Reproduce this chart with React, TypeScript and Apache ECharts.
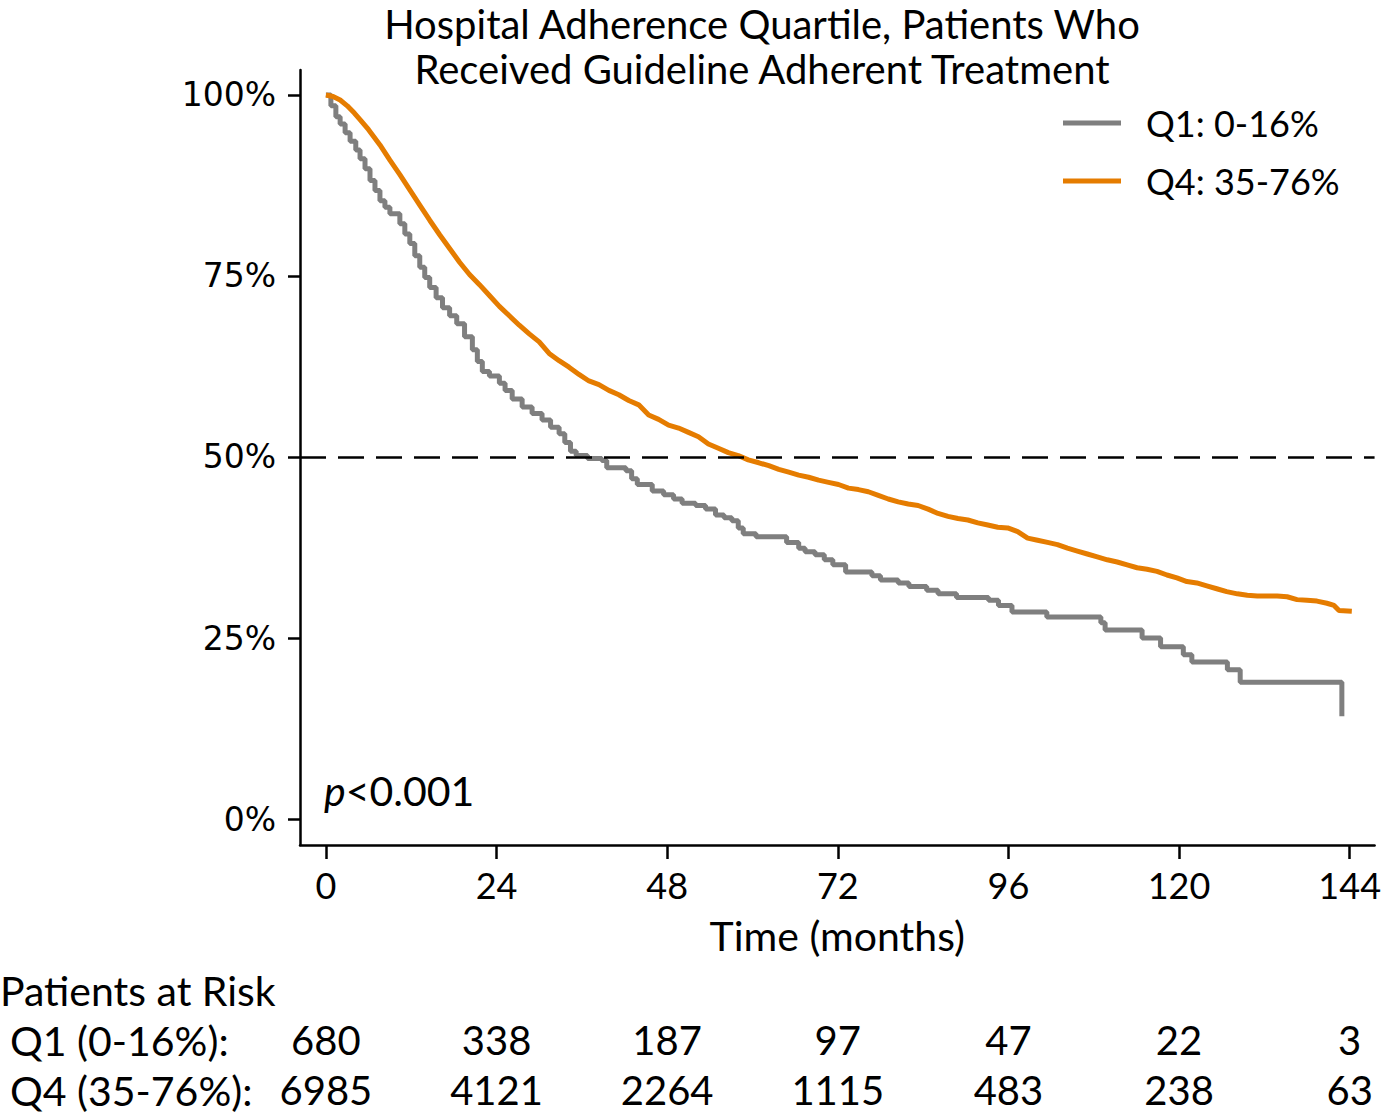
import React, { useEffect, useRef } from "react";
import * as echarts from "echarts";

const titleLines = ["Hospital Adherence Quartile, Patients Who", "Received Guideline Adherent Treatment"];
const xTicks = [0, 24, 48, 72, 96, 120, 144];
const yTicks = [0, 25, 50, 75, 100];
const seriesNames = ["Q1: 0-16%", "Q4: 35-76%"];
const riskRowLabels = ["Q1 (0-16%):", "Q4 (35-76%):"];
const riskQ1 = [680, 338, 187, 97, 47, 22, 3];
const riskQ4 = [6985, 4121, 2264, 1115, 483, 238, 63];

// Q1 (grey): [months, survival %]
const q1Curve: [number, number][] = [
  [0, 100], [0.7, 98.5], [1.4, 97], [2, 96], [2.7, 94.8], [3.4, 93.6], [4.2, 92.4], [4.8, 91.2],
  [5.5, 89.8], [6.2, 88.2], [6.9, 86.8], [7.6, 85.4], [8.3, 84.5], [9, 83.6], [10.4, 82.2],
  [11.1, 80.8], [11.8, 79.5], [12.5, 77.8], [13.2, 76.2], [13.9, 74.8], [14.6, 73.4], [15.5, 72],
  [16.4, 70.6], [17.4, 69.5], [18.4, 68.4], [19.5, 66.6], [20.6, 64.8], [21.3, 63.2], [22, 61.8],
  [23, 61.2], [24.4, 60.2], [25.2, 59.2], [26.2, 58], [27.6, 56.9], [29, 56], [30.4, 55.1],
  [31.6, 54.1], [32.8, 53.2], [33.6, 52], [34.4, 50.8], [35.2, 50.2], [36.8, 49.8], [38.8, 49.5],
  [39.5, 48.5], [42.2, 48.1], [43, 47], [43.8, 46.2], [45.9, 45.3], [47.5, 44.8], [48.9, 44.2],
  [50.1, 43.6], [52, 43.3], [53.4, 42.8], [54.8, 42], [56, 41.6], [57.1, 41.2], [58, 40.2],
  [58.7, 39.4], [60.5, 39], [64.8, 38.2], [66.5, 37.4], [67.4, 36.9], [68.8, 36.5], [70.1, 35.8],
  [71.3, 35.1], [73.1, 34.1], [76.8, 33.6], [78, 33], [80.5, 32.6], [82, 32.1], [84.5, 31.6],
  [86.1, 31.1], [88.7, 30.6], [93.2, 30.2], [94.6, 29.5], [96.5, 28.6], [101.4, 27.9],
  [109, 27.1], [109.6, 26.1], [114.8, 25], [117.4, 23.8], [120.6, 22.7], [121.8, 21.7],
  [126.8, 20.6], [128.6, 18.9], [142.9, 14.2],
];

// Q4 (orange): [months, survival %]
const q4Curve: [number, number][] = [
  [0, 100], [1, 99.8], [2, 99.3], [3, 98.5], [4, 97.5], [4.8, 96.6], [6, 95.2], [7.6, 93.1],
  [9, 91], [10.4, 89], [11.8, 86.9], [13.2, 84.8], [14.6, 82.7], [16, 80.7], [17.4, 78.8],
  [18.8, 76.9], [20.2, 75.2], [21.6, 73.8], [23, 72.3], [24.4, 70.8], [25.8, 69.5], [27.2, 68.2],
  [28.6, 67], [30, 65.9], [31.4, 64.3], [32.8, 63.3], [34.2, 62.4], [35.6, 61.4], [37, 60.5],
  [38.4, 60], [39.8, 59.2], [41.2, 58.6], [42.6, 57.8], [44, 57.2], [45.4, 55.8], [46.8, 55.2],
  [48.2, 54.4], [49.6, 54], [51, 53.4], [52.4, 52.8], [53.8, 51.8], [55.2, 51.2], [56.6, 50.6],
  [58, 50.2], [59.4, 49.6], [60.9, 49.2], [62.3, 48.8], [63.7, 48.3], [65.1, 47.9], [66.5, 47.5],
  [67.9, 47.2], [69.3, 46.8], [70.7, 46.5], [72.1, 46.2], [73.5, 45.7], [74.9, 45.5], [76.3, 45.2],
  [77.7, 44.7], [79.1, 44.2], [80.5, 43.8], [81.9, 43.5], [83.3, 43.3], [84.7, 42.8], [86.1, 42.2],
  [87.5, 41.8], [88.9, 41.5], [90.3, 41.3], [91.7, 40.9], [93.1, 40.6], [94.5, 40.3], [95.9, 40.2],
  [97.3, 39.7], [98.7, 38.8], [100.1, 38.5], [101.5, 38.2], [102.9, 37.9], [104.3, 37.4],
  [105.7, 37], [107.1, 36.6], [108.5, 36.2], [109.9, 35.8], [111.3, 35.5], [112.7, 35.1],
  [114.1, 34.7], [115.5, 34.5], [116.9, 34.2], [118.3, 33.7], [119.7, 33.3], [121.1, 32.8],
  [122.5, 32.6], [123.9, 32.2], [125.3, 31.8], [126.7, 31.4], [128.2, 31.1], [129.6, 30.9],
  [131, 30.8], [133.8, 30.8], [135.2, 30.7], [136.6, 30.3], [138, 30.2], [139.4, 30.1],
  [140.8, 29.8], [141.8, 29.5], [142.5, 28.8], [144.3, 28.7],
];

const medianLine = 50;
const pText = "<0.001";

const FONT = "Lato";
const GREY = "#7f7f7f";
const ORANGE = "#e57c00";

export default function App() {
  const ref = useRef<HTMLDivElement>(null);
  useEffect(() => {
    if (!ref.current) return;
    const chart = echarts.init(ref.current, null, { renderer: "svg" });
    const option: any = {
      animation: false,
      backgroundColor: "#ffffff",
      grid: { left: 300, right: 6, top: 70, bottom: 269, containLabel: false },
      legend: {
        orient: "vertical",
        left: 1058,
        top: 100,
        icon: "rect",
        itemWidth: 58,
        itemHeight: 5,
        itemGap: 22,
        data: seriesNames,
        textStyle: { fontFamily: FONT, fontSize: 36, color: "#000", lineHeight: 36, padding: [0, 0, 0, 20] },
      },
      xAxis: {
        type: "value",
        min: -3.645,
        max: 147.5,
        name: "Time (months)",
        nameLocation: "middle",
        nameGap: 70,
        nameTextStyle: { fontFamily: FONT, fontSize: 41, color: "#000" },
        axisLine: { show: true, onZero: false, lineStyle: { color: "#000", width: 2.5 } },
        axisTick: { show: true, length: 14, customValues: xTicks, lineStyle: { color: "#000", width: 2.5 } },
        axisLabel: { customValues: xTicks, fontFamily: FONT, fontSize: 36, color: "#000", margin: 22 },
        splitLine: { show: false },
      },
      yAxis: {
        type: "value",
        min: -3.59,
        max: 103.45,
        axisLine: { show: true, onZero: false, lineStyle: { color: "#000", width: 2.5 } },
        axisTick: { show: true, length: 12, customValues: yTicks, lineStyle: { color: "#000", width: 2.5 } },
        axisLabel: {
          customValues: yTicks,
          formatter: "{value}%",
          fontFamily: "DejaVu Sans",
          fontSize: 33,
          color: "#000",
          margin: 24,
        },
        splitLine: { show: false },
      },
      series: [
        {
          name: seriesNames[0],
          type: "line",
          step: "end",
          data: q1Curve,
          showSymbol: false,
          color: GREY,
          lineStyle: { color: GREY, width: 5 },
          z: 3,
          markLine: {
            silent: true,
            symbol: "none",
            label: { show: false },
            lineStyle: { color: "#000", type: [26, 12], width: 2.5 },
            data: [{ yAxis: medianLine }],
          },
        },
        {
          name: seriesNames[1],
          type: "line",
          data: q4Curve,
          showSymbol: false,
          color: ORANGE,
          lineStyle: { color: ORANGE, width: 5 },
          z: 4,
        },
      ],
    };
    chart.setOption(option);

    const texts: any[] = [];
    titleLines.forEach((t, i) => {
      texts.push({
        type: "text",
        x: 762,
        y: 24 + i * 45,
        style: { text: t, fontFamily: FONT, fontSize: 40, fill: "#000", textAlign: "center", textVerticalAlign: "middle" },
      });
    });
    texts.push({
      type: "text",
      x: 324,
      y: 790,
      style: {
        text: "{i|p}" + pText,
        fontFamily: FONT,
        fontSize: 41,
        fill: "#000",
        textVerticalAlign: "middle",
        rich: { i: { fontStyle: "italic", fontFamily: FONT, fontSize: 41, fill: "#000" } },
      },
    });
    texts.push({
      type: "text",
      x: 0,
      y: 990,
      style: { text: "Patients at Risk", fontFamily: FONT, fontSize: 41, fill: "#000", textVerticalAlign: "middle" },
    });
    [riskQ1, riskQ4].forEach((row, r) => {
      const y = 1040 + r * 50;
      texts.push({
        type: "text",
        x: 10,
        y,
        style: { text: riskRowLabels[r], fontFamily: FONT, fontSize: 41, fill: "#000", textVerticalAlign: "middle" },
      });
      row.forEach((v, k) => {
        const px = chart.convertToPixel({ xAxisIndex: 0 }, xTicks[k]) as number;
        texts.push({
          type: "text",
          x: px,
          y,
          style: { text: String(v), fontFamily: FONT, fontSize: 40, fill: "#000", textAlign: "center", textVerticalAlign: "middle" },
        });
      });
    });
    chart.setOption({ graphic: texts });

    return () => chart.dispose();
  }, []);
  return <div ref={ref} style={{ position: "absolute", left: 0, top: 0, width: 1384, height: 1114 }} />;
}
